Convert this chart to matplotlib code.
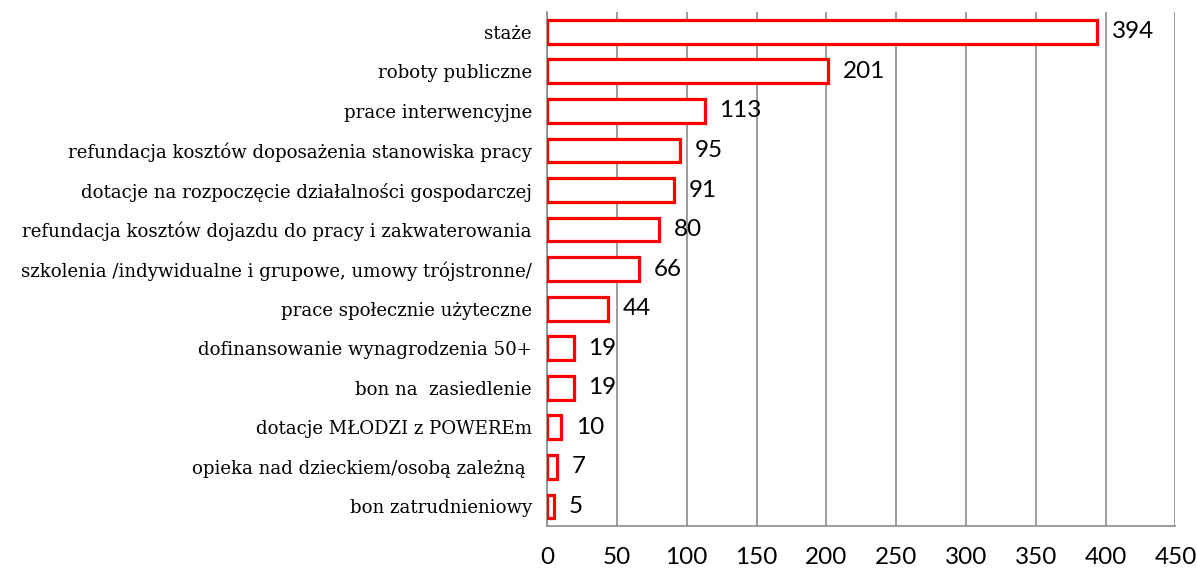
import matplotlib
matplotlib.use("Agg")
import matplotlib.pyplot as plt

categories = [
    "staże",
    "roboty publiczne",
    "prace interwencyjne",
    "refundacja kosztów doposażenia stanowiska pracy",
    "dotacje na rozpoczęcie działalności gospodarczej",
    "refundacja kosztów dojazdu do pracy i zakwaterowania",
    "szkolenia /indywidualne i grupowe, umowy trójstronne/",
    "prace społecznie użyteczne",
    "dofinansowanie wynagrodzenia 50+",
    "bon na  zasiedlenie",
    "dotacje MŁODZI z POWEREm",
    "opieka nad dzieckiem/osobą zależną ",
    "bon zatrudnieniowy",
]
values = [394, 201, 113, 95, 91, 80, 66, 44, 19, 19, 10, 7, 5]
xticks = [0, 50, 100, 150, 200, 250, 300, 350, 400, 450]

num_font = ["Lato", "DejaVu Sans"]

fig = plt.figure(figsize=(11.97, 5.72), dpi=100)
ax = fig.add_axes([0.457, 0.080, 0.525, 0.899])

pos = list(range(len(categories)))
ax.barh(pos, values, height=0.6, color="white", edgecolor="#ff0000", linewidth=2.3, zorder=3)

for p, v in zip(pos, values):
    ax.text(v + 10.5, p, str(v), va="center", ha="left", fontsize=17.5, family=num_font, zorder=4)

ax.set_xlim(0, 450)
ax.set_ylim(len(categories) - 0.5, -0.5)
ax.set_xticks(xticks)
ax.set_xticklabels([str(t) for t in xticks], family=num_font, fontsize=17.5)
ax.set_yticks(pos)
ax.set_yticklabels(categories, family="DejaVu Serif", fontsize=13.1)

ax.xaxis.grid(True, color="#8c8c8c", linewidth=1.2, zorder=0)
ax.tick_params(axis="x", length=0, pad=15)
ax.tick_params(axis="y", length=0, pad=11)
for s in ["top", "right"]:
    ax.spines[s].set_visible(False)
for s in ["left", "bottom"]:
    ax.spines[s].set_color("#8c8c8c")
    ax.spines[s].set_linewidth(1.2)

fig.savefig("out.png", dpi=100)
